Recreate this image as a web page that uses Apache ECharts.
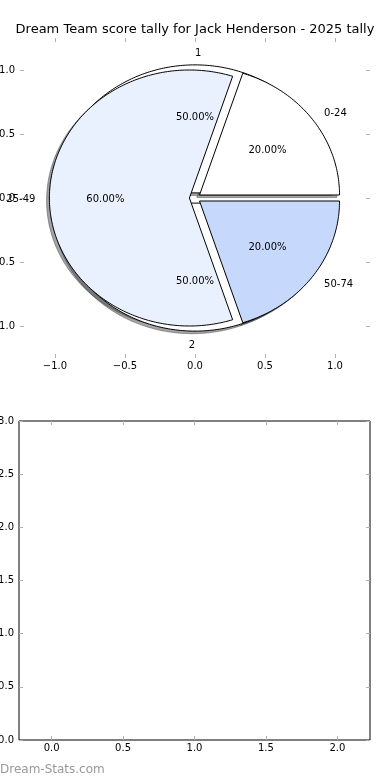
<!DOCTYPE html>
<html><head><meta charset="utf-8">
<script src="https://cdn.jsdelivr.net/npm/echarts@6/dist/echarts.min.js"></script>
<style>html,body{margin:0;padding:0;background:#fff}#c{width:390px;height:780px}</style>
</head><body><div id="c"></div>
<script>
const chartTitle = 'Dream Team score tally for Jack Henderson - 2025 tally';
const outerLabels = ['0-24', '25-49', '50-74'];
const outerValues = [1, 3, 1];
const innerLabels = ['1', '2'];
const innerValues = [1, 1];
const pieTicks = [-1, -0.5, 0, 0.5, 1];
const lowerXTicks = [0, 0.5, 1, 1.5, 2];
const lowerYTicks = [0, 0.5, 1, 1.5, 2, 2.5, 3];
const watermark = 'Dream-Stats.com';

// styles
const outerColors = ['#ffffff', '#eaf1fe', '#c6d9fd'];
const innerColors = ['#ffffff', '#ffffff'];
const FONT = 'DejaVu Sans';
const EXPLODE = 0.04;
const LABEL_DIST = 1.1;
const PCT_DIST = 0.6;

function geom(values) {
  const tot = values.reduce((a, b) => a + b, 0);
  let acc = 0;
  return values.map(v => {
    const a0 = acc / tot * 360; acc += v; const a1 = acc / tot * 360;
    const mid = (a0 + a1) / 2 * Math.PI / 180;
    return { a0, a1, mid, dx: EXPLODE * Math.cos(mid), dy: EXPLODE * Math.sin(mid), frac: v / tot };
  });
}
const outerG = geom(outerValues);
const innerG = geom(innerValues);

function wedgePts(api, g, off) {
  const cx = g.dx + off, cy = g.dy + off;
  const pts = [api.coord([cx, cy])];
  const n = Math.max(4, Math.ceil(g.a1 - g.a0));
  for (let k = 0; k <= n; k++) {
    const a = (g.a0 + (g.a1 - g.a0) * k / n) * Math.PI / 180;
    pts.push(api.coord([cx + Math.cos(a), cy + Math.sin(a)]));
  }
  return pts;
}
function shade(hex) {
  const r = parseInt(hex.substr(1, 2), 16), g = parseInt(hex.substr(3, 2), 16), b = parseInt(hex.substr(5, 2), 16);
  return 'rgb(' + Math.round(r * 0.3) + ',' + Math.round(g * 0.3) + ',' + Math.round(b * 0.3) + ')';
}
function wedgeSeries(G, colors, shadow, z) {
  return {
    type: 'custom', xAxisIndex: 0, yAxisIndex: 0, z: z, silent: true,
    data: G.map(() => [0, 0]),
    encode: { x: 0, y: 1 },
    renderItem: function (params, api) {
      const g = G[params.dataIndex];
      const pts = wedgePts(api, g, shadow ? -0.02 : 0);
      if (shadow) {
        const c = shade(colors[params.dataIndex]);
        return { type: 'polygon', shape: { points: pts }, style: { fill: c, stroke: c, lineWidth: 1, opacity: 0.5 } };
      }
      return { type: 'polygon', shape: { points: pts }, style: { fill: colors[params.dataIndex], stroke: '#000', lineWidth: 1 } };
    }
  };
}

// label positions derived from the pie geometry
const labelItems = [];
function addLabels(G, names) {
  G.forEach((g, i) => {
    const lx = g.dx + LABEL_DIST * Math.cos(g.mid), ly = g.dy + LABEL_DIST * Math.sin(g.mid);
    labelItems.push({ value: [lx, ly], text: names[i], align: lx >= 0 ? 'left' : 'right' });
    const px = g.dx + PCT_DIST * Math.cos(g.mid), py = g.dy + PCT_DIST * Math.sin(g.mid);
    labelItems.push({ value: [px, py], text: (g.frac * 100).toFixed(2) + '%', align: 'center' });
  });
}
addLabels(innerG, innerLabels);
addLabels(outerG, outerLabels);

const fmt = v => v.toFixed(1).replace('-', '\u2212');
const tickStyle = { color: '#b0b0b0', width: 1 };
function axis(grid, pos, min, max, ticks, showLabel) {
  return {
    type: 'value', gridIndex: grid, position: pos, min: min, max: max,
    axisLine: { show: false, onZero: false },
    splitLine: { show: false },
    axisTick: { show: true, inside: true, length: 4, customValues: ticks, lineStyle: tickStyle },
    axisLabel: { show: showLabel, customValues: ticks, formatter: fmt, fontFamily: FONT, fontSize: 10, color: '#000',
      margin: (pos === 'left' || pos === 'right') ? 5 : 3 }
  };
}

const chart = echarts.init(document.getElementById('c'), null, { renderer: 'canvas' });
chart.setOption({
  animation: false,
  backgroundColor: '#fff',
  title: { text: chartTitle, left: 'center', top: 23, padding: 0,
    textStyle: { fontFamily: FONT, fontSize: 13, fontWeight: 'normal', color: '#000' } },
  grid: [
    { left: 20, right: 20, top: 38, bottom: 422, containLabel: false, outerBoundsMode: 'none' },
    { left: 19, right: 20, top: 421, bottom: 40, containLabel: false, outerBoundsMode: 'none',
      show: true, borderColor: '#000', borderWidth: 1, backgroundColor: 'transparent' }
  ],
  xAxis: [
    axis(0, 'bottom', -1.25, 1.25, pieTicks, true),
    axis(0, 'top', -1.25, 1.25, pieTicks, false),
    axis(1, 'bottom', -0.228, 2.228, lowerXTicks, true),
    axis(1, 'top', -0.228, 2.228, lowerXTicks, false)
  ],
  yAxis: [
    axis(0, 'left', -1.25, 1.25, pieTicks, true),
    axis(0, 'right', -1.25, 1.25, pieTicks, false),
    axis(1, 'left', 0, 3, lowerYTicks, true),
    axis(1, 'right', 0, 3, lowerYTicks, false)
  ],
  graphic: [
    { type: 'text', left: 0, top: 764, style: { text: watermark, fontFamily: FONT, fontSize: 12, fill: '#999999' } }
  ],
  series: [
    wedgeSeries(innerG, innerColors, true, 1),
    wedgeSeries(outerG, outerColors, true, 2),
    wedgeSeries(innerG, innerColors, false, 3),
    wedgeSeries(outerG, outerColors, false, 4),
    {
      type: 'custom', xAxisIndex: 0, yAxisIndex: 0, z: 5, silent: true,
      data: labelItems.map(l => ({ value: l.value })),
      encode: { x: 0, y: 1 },
      renderItem: function (params, api) {
        const l = labelItems[params.dataIndex];
        const p = api.coord([api.value(0), api.value(1)]);
        return { type: 'text', x: p[0], y: p[1] + 1,
          style: { text: l.text, fontFamily: FONT, fontSize: 10, fill: '#000', align: l.align, verticalAlign: 'middle' } };
      }
    },
    { type: 'line', xAxisIndex: 2, yAxisIndex: 2, data: [] }
  ]
});
</script></body></html>
